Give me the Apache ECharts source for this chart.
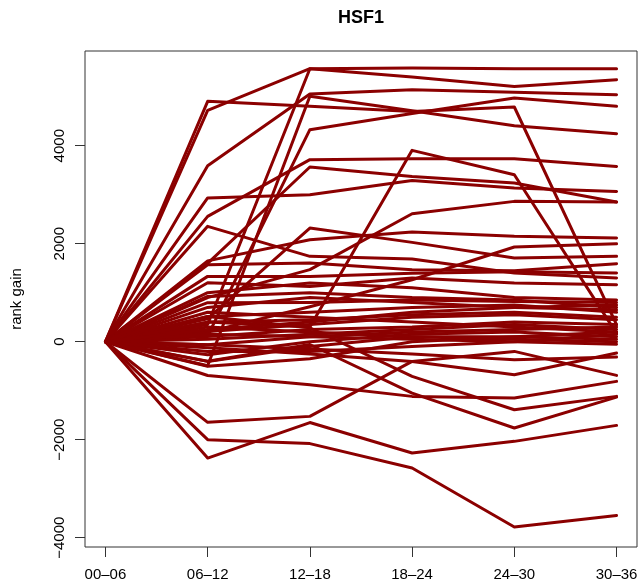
<!DOCTYPE html>
<html>
<head>
<meta charset="utf-8">
<title>HSF1 rank gain</title>
<script src="https://cdn.jsdelivr.net/npm/echarts@6/dist/echarts.min.js"></script>
<style>
  html, body { margin: 0; padding: 0; background: #fff; }
  #chart { width: 641px; height: 588px; }
</style>
</head>
<body>
<div id="chart"></div>
<script>
// Time windows along the x axis
const periods = ['00–06', '06–12', '12–18', '18–24', '24–30', '30–36'];

// Tick values on the y axis
const yTicks = [-4000, -2000, 0, 2000, 4000];

// Rank gain per gene, one row per gene, one value per time window
const gainRows = [
  [0, 4905, 4803, 4700, 4790, 350],
  [0, 4721, 5572, 5402, 5210, 5348],
  [0, 350, 5572, 5586, 5572, 5572],
  [0, 3592, 5056, 5143, 5090, 5041],
  [0, -490, 5008, 4715, 4408, 4245],
  [0, 120, 4327, 4657, 4973, 4803],
  [0, 2558, 3715, 3735, 3735, 3578],
  [0, 1600, 3565, 3374, 3238, 2851],
  [0, 2933, 3000, 3292, 3136, 3068],
  [0, 400, 300, 3905, 3408, 170],
  [0, 900, 1470, 2612, 2864, 2851],
  [0, 2354, 1742, 1688, 1400, 1300],
  [0, 1650, 2082, 2239, 2150, 2116],
  [0, 470, 2320, 2027, 1708, 1742],
  [0, 200, 714, 1265, 1933, 2000],
  [0, -2000, -2080, -2578, -3782, -3545],
  [0, -1646, -1524, -402, -198, -688],
  [0, -2375, -1650, -2272, -2034, -1708],
  [0, -690, -880, -1116, -1150, -810],
  [0, -400, -57, -1048, -1762, -1130],
  [0, 516, 285, -708, -1388, -1116],
  [0, -122, -250, -402, -673, -231],
  [0, -61, -150, -250, -367, -313],
  [0, 1571, 1606, 1470, 1450, 1592],
  [0, 1333, 1333, 1395, 1429, 1401],
  [0, 1204, 1129, 1300, 1197, 1163],
  [0, 925, 1000, 900, 850, 700],
  [0, 796, 800, 850, 820, 800],
  [0, 516, 600, 700, 750, 600],
  [0, 400, 450, 550, 600, 500],
  [0, 210, 350, 500, 550, 450],
  [0, 108, 250, 300, 400, 350],
  [0, -61, 100, 200, 250, 300],
  [0, -265, 0, 150, 200, 100],
  [0, -402, -100, 100, 50, 0],
  [0, 300, 200, 100, 100, 50],
  [0, 600, 500, 400, 300, 200],
  [0, 150, 100, 50, 0, -50],
  [0, 50, 150, 250, 350, 250],
  [0, -200, -200, -100, 0, 150],
  [0, 700, 900, 800, 700, 650],
  [0, 1000, 1200, 1100, 900, 850],
  [0, 250, 400, 600, 700, 750],
  [0, -500, -350, 0, 100, 200]
];

const LINE_COLOR = '#8B0000';
const FONT = '"Liberation Sans", Arial, Helvetica, sans-serif';

const chart = echarts.init(document.getElementById('chart'), null, { renderer: 'canvas' });

const xIdx = periods.map((_, i) => i);

const series = gainRows.map((row, g) => ({
  type: 'line',
  name: 'gene' + (g + 1),
  data: row.map((v, i) => [i, v]),
  symbol: 'none',
  silent: true,
  lineStyle: { color: LINE_COLOR, width: 3, cap: 'round', join: 'round' }
}));

chart.setOption({
  animation: false,
  backgroundColor: '#fff',
  grid: {
    left: 85, right: 4, top: 51, bottom: 41,
    show: true, borderColor: '#333', borderWidth: 1,
    backgroundColor: 'transparent'
  },
  xAxis: {
    type: 'value',
    min: -0.2, max: 5.2,
    axisLine: { show: false, onZero: false },
    splitLine: { show: false },
    axisTick: {
      customValues: xIdx, length: 10,
      lineStyle: { color: '#333', width: 1 }
    },
    axisLabel: {
      customValues: xIdx,
      formatter: v => periods[Math.round(v)],
      color: '#000', fontSize: 15, fontFamily: FONT, margin: 20
    }
  },
  yAxis: {
    type: 'value',
    min: -4190, max: 5933,
    axisLine: { show: false, onZero: false },
    splitLine: { show: false },
    axisTick: {
      customValues: yTicks, length: 10,
      lineStyle: { color: '#333', width: 1 }
    },
    axisLabel: {
      customValues: yTicks,
      rotate: 90,
      formatter: v => (v < 0 ? '\u2212' + Math.abs(v) : String(v)),
      color: '#000', fontSize: 15, fontFamily: FONT, margin: 18
    }
  },
  graphic: [
    {
      type: 'text',
      x: 361, y: 18,
      style: {
        text: 'HSF1', fill: '#000', font: 'bold 18px ' + FONT,
        textAlign: 'center', textVerticalAlign: 'middle'
      }
    },
    {
      type: 'text',
      x: 17, y: 299, rotation: Math.PI / 2,
      style: {
        text: 'rank gain', fill: '#000', font: '15px ' + FONT,
        textAlign: 'center', textVerticalAlign: 'middle'
      }
    }
  ],
  series: series
});
</script>
</body>
</html>
